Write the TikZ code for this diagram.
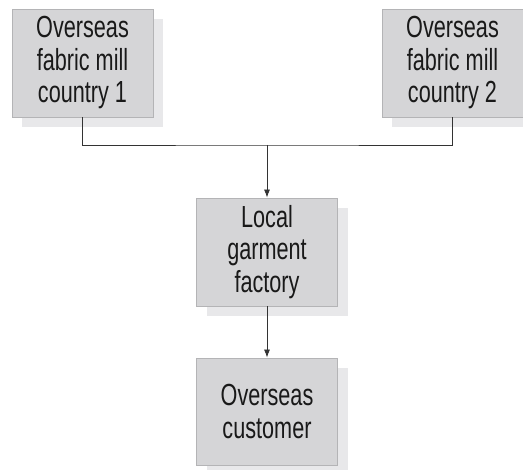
\documentclass[tikz,border=0pt]{standalone}
\usepackage{fontspec}
\setmainfont{Liberation Sans}
\newfontfamily\condfont[FakeStretch=0.71]{Liberation Sans}
\newcommand\condsetup{\condfont\fontsize{30.5}{32.5}\selectfont}
\newcommand\gap{\hspace{6pt}}
\usetikzlibrary{shadows,arrows.meta}
\definecolor{boxfill}{HTML}{D5D5D7}
\definecolor{boxedge}{HTML}{B4B4B6}
\definecolor{shadowc}{HTML}{E8E8EA}
\definecolor{linec}{HTML}{333333}
\tikzset{
  procbox/.style={rectangle, fill=boxfill, draw=boxedge, line width=0.8pt,
    minimum width=141pt, minimum height=108pt, text width=135pt, align=center,
    inner sep=0pt, font=\condsetup, text=black!90,
    drop shadow={shadow xshift=10pt, shadow yshift=-10pt, fill=shadowc, opacity=1}},
  conn/.style={draw=linec, line width=0.8pt},
  arr/.style={conn, -{Latex[length=8pt,width=6pt]}}
}
\begin{document}
\begin{tikzpicture}[x=1pt,y=-1pt]
\useasboundingbox (0,0) rectangle (523,470);
\node[procbox] (m1) at (82.5,63) {Overseas\\fabric\gap mill\\country\gap 1};
\node[procbox] (m2) at (452.5,63) {Overseas\\fabric\gap mill\\country\gap 2};
\node[procbox] (lf) at (267,252) {Local\\garment\\factory};
\node[procbox, minimum height=107pt] (oc) at (267,411.5) {Overseas\\customer};
\coordinate (j) at (267,145);
\draw[conn] (m1.south) |- (j) -| (m2.south);
\draw[arr] (j) -- (lf.north);
\draw[arr] (lf.south) -- (oc.north);
\end{tikzpicture}
\end{document}
